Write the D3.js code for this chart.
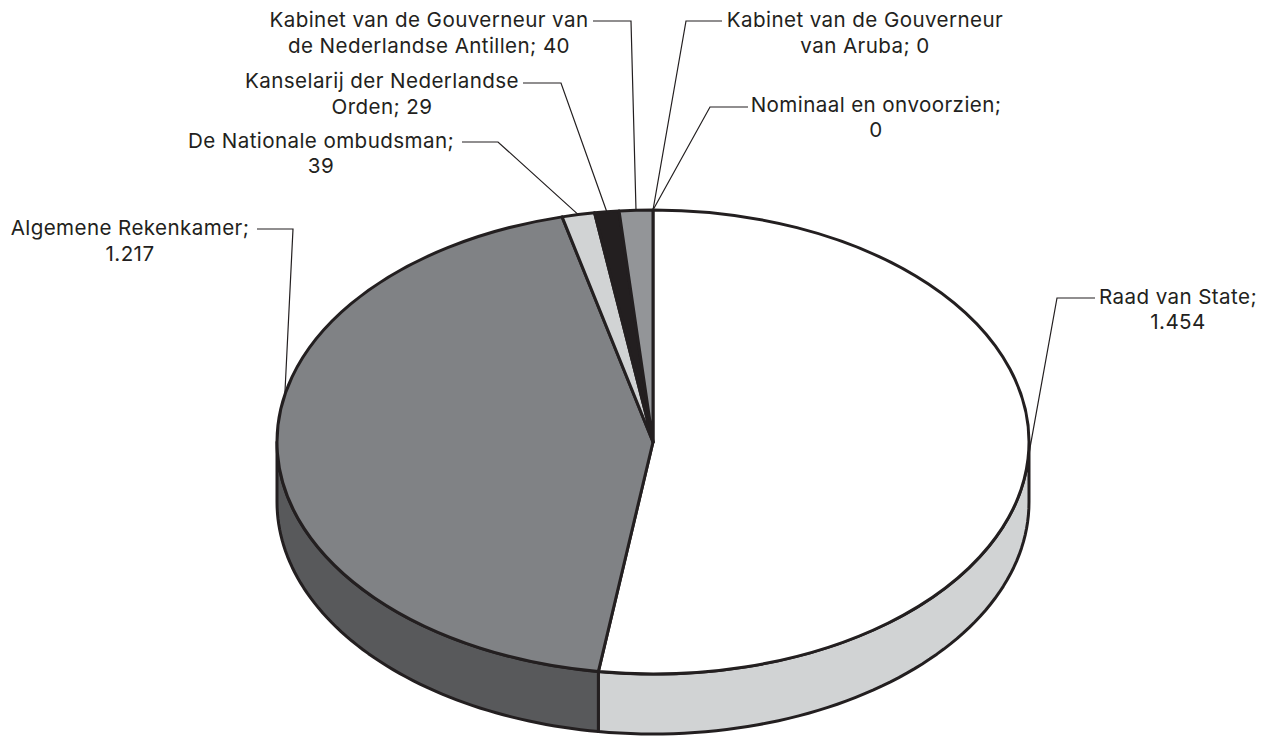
<!DOCTYPE html>
<html>
<head>
<meta charset="utf-8">
<script src="https://cdn.jsdelivr.net/npm/d3@7"></script>
<style>
  html, body { margin: 0; padding: 0; background: #fff; }
  svg { display: block; }
  .lbl { font-family: Inter, "Open Sans", sans-serif; font-size: 20.6px; letter-spacing: 0.4px; fill: #231f20; text-anchor: middle; }
  .leader { fill: none; stroke: #231f20; stroke-width: 1.2; }
  .edge { stroke: #231f20; stroke-width: 3; stroke-linejoin: round; vector-effect: non-scaling-stroke; }
</style>
</head>
<body>
<div id="view"></div>
<script>
  // ---------- Data ----------
  const categories = [
    "Raad van State",
    "Algemene Rekenkamer",
    "De Nationale ombudsman",
    "Kanselarij der Nederlandse Orden",
    "Kabinet van de Gouverneur van de Nederlandse Antillen",
    "Kabinet van de Gouverneur van Aruba",
    "Nominaal en onvoorzien"
  ];
  const values = [1454, 1217, 39, 29, 40, 0, 0];

  // ---------- Styles ----------
  const topColors  = ["#ffffff", "#808285", "#d1d3d4", "#231f20", "#939598", "#939598", "#939598"];
  const sideColors = ["#d1d3d4", "#58595b", "#d1d3d4", "#231f20", "#939598", "#939598", "#939598"];

  // label placement: wrapped at `br` chars, centre x, two baselines, leader start and knee
  const labelPos = [
    { br: 15, cx: 1178, y: [304, 329], from: [1095, 298], knee: [1057, 298] },
    // this leader stops where it first touches the rim, not at the slice middle
    { br: 20, cx: 130,  y: [235, 261], from: [257, 229],  knee: [293, 229], rimDeg: 281.7 },
    { br: 23, cx: 321,  y: [148, 173], from: [462, 142],  knee: [498, 142] },
    { br: 26, cx: 382,  y: [88, 114],  from: [523, 83],   knee: [561, 83] },
    { br: 29, cx: 429,  y: [27, 53],   from: [593, 21],   knee: [631, 21] },
    { br: 25, cx: 865,  y: [27, 53],   from: [722, 21],   knee: [686, 21] },
    { br: 23, cx: 876,  y: [112, 137], from: [748, 107],  knee: [710, 107] }
  ];

  const W = 1264, H = 738;
  const cx = 653, cy = 442, rx = 376, ry = 232, depth = 60;

  const fmt = d3.formatLocale({ decimal: ",", thousands: ".", grouping: [3], currency: ["", ""] }).format(",d");

  const svg = d3.select("#view").append("svg").attr("width", W).attr("height", H);

  const rows = categories.map((name, i) => ({ name, value: values[i], i }));
  const slices = d3.pie().sort(null).value(d => d.value)(rows);

  // point on the rim, angle clockwise from the top
  const rim = (a, dy = 0) => [cx + rx * Math.sin(a), cy - ry * Math.cos(a) + dy];

  // ---------- Side wall (front half only) ----------
  const line = d3.line();
  slices.forEach(s => {
    const a0 = Math.max(s.startAngle, Math.PI / 2);
    const a1 = Math.min(s.endAngle, Math.PI * 1.5);
    if (a1 <= a0) return;
    const angles = d3.range(0, 61).map(k => a0 + (a1 - a0) * k / 60);
    const pts = angles.map(a => rim(a)).concat(angles.slice().reverse().map(a => rim(a, depth)));
    svg.append("path")
      .attr("class", "edge")
      .attr("d", line(pts) + "Z")
      .attr("fill", sideColors[s.data.i]);
  });

  // ---------- Top face ----------
  const arc = d3.arc().innerRadius(0).outerRadius(rx);
  svg.append("g")
    .attr("transform", `translate(${cx},${cy}) scale(1,${ry / rx})`)
    .selectAll("path")
    .data(slices.filter(s => s.value > 0))
    .join("path")
    .attr("class", "edge")
    .attr("d", arc)
    .attr("fill", d => topColors[d.data.i]);

  // ---------- Leaders + labels ----------
  slices.forEach(s => {
    const p = labelPos[s.data.i];
    const a = p.rimDeg ? p.rimDeg * Math.PI / 180 : (s.startAngle + s.endAngle) / 2;
    svg.append("path")
      .attr("class", "leader")
      .attr("d", line([p.from, p.knee, rim(a)]));

    const full = `${s.data.name}; ${fmt(s.data.value)}`;
    const text = svg.append("text").attr("class", "lbl");
    [full.slice(0, p.br).trim(), full.slice(p.br).trim()].forEach((t, k) => {
      text.append("tspan").attr("x", p.cx).attr("y", p.y[k]).text(t);
    });
  });
</script>
</body>
</html>
